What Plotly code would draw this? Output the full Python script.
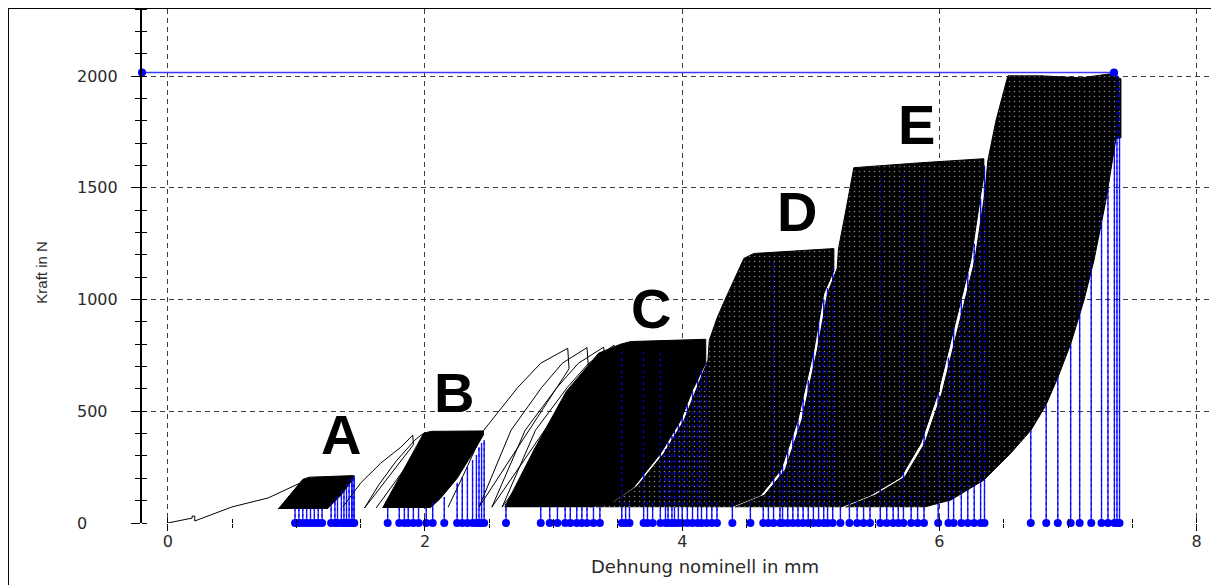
import plotly.graph_objects as go

# ---------------- axes / text ----------------
X_RANGE = [-0.2, 8.15]
Y_RANGE = [0, 2300]
x_tick_vals = [0, 2, 4, 6, 8]
y_tick_vals = [0, 500, 1000, 1500, 2000]
x_title = "Dehnung nominell in mm"
y_title = "Kraft in N"

# ---------------- initial loading path ----------------
init_x = [0.0, 0.19, 0.19, 0.21, 0.21, 0.50, 0.78, 1.03, 1.06, 1.07, 0.86]
init_y = [0, 22, 31, 31, 9, 72, 112, 179, 195, 170, 63]

# ---------------- dense cycle blocks (outline of the filled area) ----------------
A_fill_x = [0.86, 1.05, 1.10, 1.445, 1.445, 1.34, 1.24]
A_fill_y = [63, 195, 205, 212, 200, 120, 63]

B_fill_x = [1.67, 1.99, 2.05, 2.455, 2.455, 2.40, 2.25, 2.12, 2.04]
B_fill_y = [67, 402, 410, 412, 395, 340, 200, 110, 67]

C_fill_x = [2.62, 2.85, 3.10, 3.35, 3.52, 3.60, 4.183, 4.183, 4.08, 3.989, 3.834, 3.624, 3.445, 3.289]
C_fill_y = [71, 330, 590, 760, 800, 812, 822, 716, 594, 460, 313, 161, 89, 71]

D_fill_x = [3.33, 3.47, 3.65, 3.86, 4.015, 4.105, 4.20, 4.21, 4.27, 4.33, 4.417, 4.479, 4.557,
            5.179, 5.179, 5.101, 5.023, 4.899, 4.767, 4.611, 4.378]
D_fill_y = [71, 94, 165, 313, 460, 594, 728, 817, 916, 996, 1108, 1184, 1206,
            1228, 1130, 1027, 773, 460, 237, 125, 71]

E_fill_x = [4.41, 4.64, 4.80, 4.93, 5.05, 5.13, 5.205, 5.215, 5.272, 5.334, 5.855, 6.345,
            6.345, 6.322, 6.244, 6.112, 5.988, 5.855, 5.700, 5.467, 5.233]
E_fill_y = [71, 125, 237, 460, 773, 1027, 1140, 1228, 1398, 1590, 1612, 1630,
            1554, 1474, 1175, 875, 581, 357, 205, 125, 71]

F_fill_x = [5.27, 5.50, 5.73, 5.886, 6.019, 6.143, 6.275, 6.353, 6.376, 6.439, 6.532, 6.788, 7.10,
            7.333, 7.411, 7.411, 7.372, 7.294, 7.201, 7.123, 7.022, 6.921, 6.827, 6.711, 6.555,
            6.345, 6.089, 5.879]
F_fill_y = [71, 125, 205, 357, 581, 875, 1175, 1474, 1621, 1800, 2001, 2001, 1992,
            2010, 1987, 1724, 1720, 1443, 1175, 996, 804, 652, 527, 415, 313,
            192, 103, 71]

# ---------------- individual early cycles ----------------
B_loop_x = [[1.36, 1.50, 1.656, 1.812, 1.905, 1.91, 1.53],
            [1.53, 1.64, 1.78, 1.92, 1.98, 1.99, 1.62]]
B_loop_y = [[71, 179, 268, 339, 393, 350, 67],
            [67, 170, 280, 370, 398, 360, 67]]

C_loop_x = [[2.18, 2.317, 2.457, 2.722, 2.90, 3.11, 3.12, 2.42],
            [2.42, 2.543, 2.669, 2.908, 3.068, 3.26, 3.27, 2.52],
            [2.52, 2.648, 2.779, 3.027, 3.193, 3.39, 3.40, 2.60],
            [2.60, 2.728, 2.859, 3.107, 3.273, 3.47, 3.48, 2.68]]
C_loop_y = [[71, 237, 415, 607, 715, 782, 690, 71],
            [71, 237, 415, 607, 715, 785, 700, 71],
            [71, 237, 415, 607, 715, 787, 700, 71],
            [71, 237, 415, 607, 715, 796, 710, 71]]

# ---------------- blue stems (cycle markers) ----------------
stem_x = [0.99, 1.02, 1.05, 1.08, 1.11, 1.14, 1.17, 1.20, 1.27, 1.30, 1.32, 1.35, 1.37, 1.39, 1.41, 1.43, 1.44, 1.45,
          1.71, 1.80, 1.84, 1.87, 1.91, 1.95, 2.01, 2.06, 2.15, 2.25, 2.29, 2.33, 2.37, 2.40, 2.42, 2.44, 2.46,
          2.63,
          2.90, 2.97, 3.03, 3.09, 3.13, 3.18, 3.22, 3.26, 3.31, 3.36,
          3.53, 3.56, 3.59, 3.70, 3.73, 3.77, 3.83, 3.87, 3.89, 3.92, 3.94, 3.97, 4.00, 4.04, 4.08, 4.12, 4.15, 4.19,
          4.23, 4.27, 4.39, 4.53, 4.63, 4.67, 4.71, 4.76, 4.78, 4.82, 4.86, 4.90, 4.94, 4.98, 5.02, 5.06, 5.10, 5.13, 5.17,
          5.23, 5.30, 5.36, 5.41, 5.46, 5.54, 5.59, 5.64, 5.68, 5.72, 5.78, 5.83, 5.88,
          5.99, 6.07, 6.11, 6.17, 6.22, 6.27, 6.32, 6.35,
          6.71, 6.83, 6.92, 7.02, 7.09, 7.18, 7.26, 7.31, 7.36, 7.38, 7.40]
stem_h = [65, 65, 65, 65, 65, 65, 65, 65, 90, 110, 125, 145, 160, 180, 195, 205, 210, 212,
          70, 70, 70, 70, 70, 70, 70, 103, 116, 179, 205, 250, 281, 304, 339, 357, 371,
          85,
          80, 80, 80, 80, 80, 80, 80, 80, 80, 80,
          782, 90, 90, 782, 100, 100, 760, 330, 360, 390, 410, 440, 480, 530, 590, 650, 700, 716,
          95, 95, 95, 100, 110, 120, 1180, 230, 260, 330, 400, 460, 560, 640, 770, 900, 1000, 1050, 1150,
          100, 100, 100, 105, 110, 1563, 115, 120, 125, 1563, 130, 140, 1560,
          590, 740, 875, 1000, 1120, 1250, 1450, 1600,
          415, 527, 652, 804, 1100, 1175, 1385, 1500, 1720, 2016, 1990]

# ---------------- max force line ----------------
fmax_x = [-0.2, 7.357]
fmax_y = [2016, 2016]

# ---------------- stage labels ----------------
label_text = ["A", "B", "C", "D", "E"]
label_x = [1.347, 2.226, 3.758, 4.893, 5.818]
label_y = [394, 582, 962, 1396, 1781]

# =====================================================
BLUE = "#0000ff"
TXT = "#2a2a2a"
fig = go.Figure()

# stems (behind the loops)
sx, sy = [], []
for xv, hv in zip(stem_x, stem_h):
    sx += [xv, xv, None]
    sy += [0, hv, None]
fig.add_trace(go.Scatter(x=sx, y=sy, mode="lines", line=dict(color="#1a1aff", width=1.4),
                         hoverinfo="skip", showlegend=False))

# dense blocks
speckle = dict(shape=".", bgcolor="black", fgcolor="white", size=5, solidity=0.08)
blocks = [(A_fill_x, A_fill_y, None), (B_fill_x, B_fill_y, None), (C_fill_x, C_fill_y, None),
          (D_fill_x, D_fill_y, speckle), (E_fill_x, E_fill_y, speckle), (F_fill_x, F_fill_y, speckle)]
for fx, fy, pat in blocks:
    kw = dict(fillpattern=pat) if pat else {}
    fig.add_trace(go.Scatter(x=fx, y=fy, mode="lines", fill="toself", fillcolor="black",
                             line=dict(color="black", width=1), hoverinfo="skip", showlegend=False, **kw))

# individual cycles
fig.add_trace(go.Scatter(x=init_x, y=init_y, mode="lines", line=dict(color="black", width=1),
                         hoverinfo="skip", showlegend=False))
for lx_list, ly_list in [(B_loop_x, B_loop_y), (C_loop_x, C_loop_y)]:
    for lx, ly in zip(lx_list, ly_list):
        fig.add_trace(go.Scatter(x=lx, y=ly, mode="lines", line=dict(color="black", width=1),
                                 hoverinfo="skip", showlegend=False))

# stems seen through the loops (dotted)
fig.add_trace(go.Scatter(x=sx, y=sy, mode="lines", line=dict(color=BLUE, width=1, dash="dot"),
                         hoverinfo="skip", showlegend=False))

# stem foot markers
fig.add_trace(go.Scatter(x=stem_x, y=[0] * len(stem_x), mode="markers",
                         marker=dict(color=BLUE, size=8), cliponaxis=False,
                         hoverinfo="skip", showlegend=False))

# max force line
fig.add_trace(go.Scatter(x=fmax_x, y=fmax_y, mode="lines+markers",
                         line=dict(color="#3a3aff", width=1.5), marker=dict(color=BLUE, size=8),
                         cliponaxis=False, hoverinfo="skip", showlegend=False))

# dummy trace for the overlay axes (crossing minor ticks)
fig.add_trace(go.Scatter(x=[None], y=[None], xaxis="x2", yaxis="y2", mode="lines",
                         hoverinfo="skip", showlegend=False))

annotations = []
for t, xv, yv in zip(label_text, label_x, label_y):
    annotations.append(dict(x=xv, y=yv, xref="x", yref="y", text=t, showarrow=False,
                            font=dict(family="Liberation Sans", size=56, color="black", weight="bold")))
for v in y_tick_vals:
    annotations.append(dict(x=-0.0624, y=v, xref="paper", yref="y", text=str(v), showarrow=False,
                            xanchor="left", yanchor="middle",
                            font=dict(family="DejaVu Sans", size=16, color=TXT)))
annotations.append(dict(x=0.524, y=-0.0854, xref="paper", yref="paper", text=x_title, showarrow=False,
                        xanchor="center", yanchor="middle",
                        font=dict(family="DejaVu Sans", size=18, color=TXT)))
annotations.append(dict(x=-0.0931, y=0.487, xref="paper", yref="paper", text=y_title, showarrow=False,
                        textangle=-90, xanchor="center", yanchor="middle",
                        font=dict(family="Liberation Sans", size=15, color=TXT)))

grid = dict(showgrid=True, gridcolor="#3c3c3c", gridwidth=1, griddash="5px,4px")

fig.update_layout(
    width=1211, height=577,
    margin=dict(l=134, r=3, t=1, b=62),
    paper_bgcolor="white", plot_bgcolor="white",
    showlegend=False,
    xaxis=dict(range=X_RANGE, tickvals=x_tick_vals, ticks="outside", ticklen=7, tickcolor="black",
               tickwidth=1, showline=False, zeroline=False, ticklabelstandoff=-3,
               minor=dict(dtick=0.5, tick0=0, ticks="outside", ticklen=4, tickcolor="black", showgrid=False),
               tickfont=dict(family="DejaVu Sans", size=16, color=TXT), **grid),
    yaxis=dict(range=Y_RANGE, tickvals=y_tick_vals, ticks="outside", ticklen=9, tickcolor="black",
               tickwidth=1, showline=True, linecolor="black", linewidth=2, zeroline=False,
               showticklabels=False,
               minor=dict(dtick=100, tick0=0, ticks="outside", ticklen=5, tickcolor="black", showgrid=False),
               **grid),
    xaxis2=dict(range=X_RANGE, overlaying="x", anchor="y2", showgrid=False, zeroline=False,
                showticklabels=False, showline=False, tickvals=x_tick_vals, ticks="inside", ticklen=5,
                tickcolor="black",
                minor=dict(dtick=0.5, tick0=0, ticks="inside", ticklen=4, tickcolor="black", showgrid=False)),
    yaxis2=dict(range=Y_RANGE, overlaying="y", anchor="x2", side="left", showgrid=False, zeroline=False,
                showticklabels=False, showline=False, tickvals=y_tick_vals, ticks="",
                minor=dict(dtick=100, tick0=0, ticks="inside", ticklen=5, tickcolor="black", showgrid=False)),
    annotations=annotations,
    shapes=[
        dict(type="line", xref="paper", yref="paper", x0=-0.1248, x1=1.02, y0=1.002, y1=1.002,
             line=dict(color="black", width=2)),
        dict(type="line", xref="paper", yref="paper", x0=-0.1248, x1=-0.1248, y0=1.002, y1=-0.2,
             line=dict(color="black", width=2)),
    ],
)

fig.write_html("out.html")
